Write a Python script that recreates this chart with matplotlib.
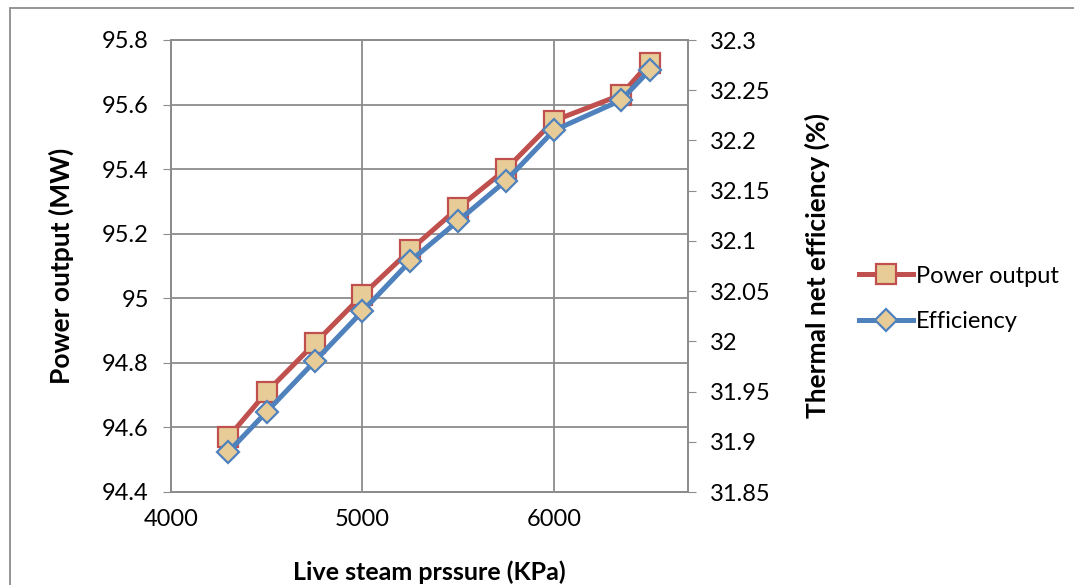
import numpy as np
import matplotlib
matplotlib.use('Agg')
import matplotlib.pyplot as plt
from matplotlib.lines import Line2D
from matplotlib.patches import Rectangle

# data
pressure = [4300, 4500, 4750, 5000, 5250, 5500, 5750, 6000, 6350, 6500]
power_output = [94.57, 94.71, 94.86, 95.01, 95.15, 95.28, 95.40, 95.55, 95.63, 95.73]
efficiency = [31.89, 31.93, 31.98, 32.03, 32.08, 32.12, 32.16, 32.21, 32.24, 32.27]

x_ticks = [4000, 5000, 6000]
left_ticks = [94.4, 94.6, 94.8, 95.0, 95.2, 95.4, 95.6, 95.8]
left_labels = ['94.4', '94.6', '94.8', '95', '95.2', '95.4', '95.6', '95.8']
right_ticks = [31.85, 31.9, 31.95, 32.0, 32.05, 32.1, 32.15, 32.2, 32.25, 32.3]
right_labels = ['31.85', '31.9', '31.95', '32', '32.05', '32.1', '32.15', '32.2', '32.25', '32.3']

red = '#C0504D'
blue = '#4F81BD'
tan = '#E8CC98'
grid_c = '#8C8C8C'

plt.rcParams['font.family'] = ['Lato', 'DejaVu Sans']
plt.rcParams['font.size'] = 17

fig = plt.figure(figsize=(10.74, 5.85), dpi=100)
fig.patches.append(Rectangle((10 / 1074, -0.05), 1.2, (585 - 8) / 585 + 0.05,
                             transform=fig.transFigure, fill=False,
                             edgecolor='#8C8C8C', lw=1.3))

ax = fig.add_axes([171 / 1074, (585 - 492) / 585, 517 / 1074, 452 / 585])
ax2 = ax.twinx()

ax.plot(pressure, power_output, color=red, lw=3.6, marker='s', ms=14,
        mfc=tan, mec=red, mew=1.6, zorder=3)
ax2.plot(pressure, efficiency, color=blue, lw=3.6, marker='D', ms=11,
         mfc=tan, mec=blue, mew=1.6, zorder=3)

ax.set_xlim(4000, 6700)
ax.set_ylim(94.4, 95.8)
ax2.set_ylim(31.85, 32.3)
ax.set_xticks(x_ticks)
ax.set_xticklabels([str(t) for t in x_ticks])
ax.set_yticks(left_ticks)
ax.set_yticklabels(left_labels)
ax2.set_yticks(right_ticks)
ax2.set_yticklabels(right_labels)

ax.grid(True, color=grid_c, lw=1.3)
ax.set_axisbelow(True)
for a in (ax, ax2):
    for s in a.spines.values():
        s.set_color(grid_c)
        s.set_linewidth(1.3)
ax.tick_params(axis='x', length=0, pad=12)
ax.tick_params(axis='y', direction='out', color=grid_c, length=6, pad=10)
ax2.tick_params(axis='y', direction='out', color=grid_c, length=6, pad=10)

ax.set_xlabel('Live steam prssure (KPa)', fontweight='bold', fontsize=18, labelpad=22)
ax.set_ylabel('Power output (MW)', fontweight='bold', fontsize=19, labelpad=20)
ax2.set_ylabel('Thermal net efficiency (%)', fontweight='bold', fontsize=19, labelpad=24)

handles = [
    Line2D([], [], color=red, lw=3.6, marker='s', ms=14, mfc=tan, mec=red, mew=1.6),
    Line2D([], [], color=blue, lw=3.6, marker='D', ms=11, mfc=tan, mec=blue, mew=1.6),
]
fig.legend(handles, ['Power output', 'Efficiency'], loc='center left',
           bbox_to_anchor=(840 / 1074, 1 - 299 / 585), frameon=False, fontsize=17,
           handlelength=2.3, handletextpad=0.1, labelspacing=1.05, borderpad=0.3)

fig.savefig('out.png', dpi=100)
